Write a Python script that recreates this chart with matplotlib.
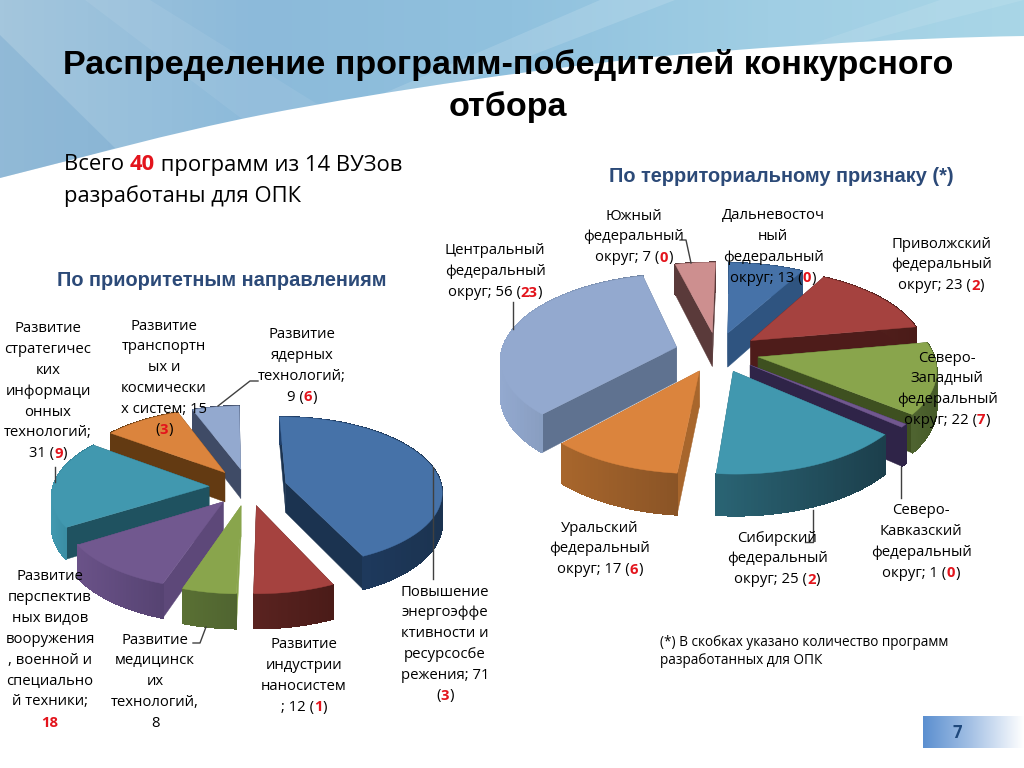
import numpy as np
import matplotlib
matplotlib.use('Agg')
import matplotlib.pyplot as plt
from matplotlib.colors import to_rgb, LinearSegmentedColormap
from matplotlib.patches import Polygon, PathPatch
from matplotlib.path import Path

# priority directions pie, clockwise from the top
left_values = [71, 12, 8, 18, 31, 15, 9]
left_labels = [
    'Повышение\nэнергоэффе\nктивности и\nресурсосбе\nрежения; 71\n(*3*)',
    'Развитие\nиндустрии\nнаносистем\n; 12 (*1*)',
    'Развитие\nмедицинск\nих\nтехнологий,\n8',
    'Развитие\nперспектив\nных видов\nвооружения\n, военной и\nспециально\nй техники;\n*18*',
    'Развитие\nстратегичес\nких\nинформаци\nонных\nтехнологий;\n31 (*9*)',
    'Развитие\nтранспортн\nых и\nкосмически\nх систем; 15\n(*3*)',
    'Развитие\nядерных\nтехнологий;\n9 (*6*)',
]
# territorial pie, clockwise from the top
right_values = [13, 23, 22, 1, 25, 17, 56, 7]
right_labels = [
    'Дальневосточ\nный\nфедеральный\nокруг; 13 (*0*)',
    'Приволжский\nфедеральный\nокруг; 23 (*2*)',
    'Северо-\nЗападный\nфедеральный\nокруг; 22 (*7*)',
    'Северо-\nКавказский\nфедеральный\nокруг; 1 (*0*)',
    'Сибирский\nфедеральный\nокруг; 25 (*2*)',
    'Уральский\nфедеральный\nокруг; 17 (*6*)',
    'Центральный\nфедеральный\nокруг; 56 (*23*)',
    'Южный\nфедеральный\nокруг; 7 (*0*)',
]

# colours: top face, cut wall, outer wall left, outer wall right
left_colors = [
    ('#4672A8', '#1B3350', '#21406A', '#1B3350'),
    ('#A5423F', '#4E1C1A', '#5A2320', '#4A1B18'),
    ('#89A54C', '#89A54C', '#5A7034', '#4F6430'),
    ('#71588F', '#5D4879', '#6A5288', '#564372'),
    ('#4198AF', '#1F5260', '#4198AF', '#2F7A8E'),
    ('#DB843D', '#633A12', '#633A12', '#633A12'),
    ('#93A9CF', '#3F4B66', '#3F4B66', '#3F4B66'),
]
right_colors = [
    ('#4672A8', '#2F5480', '#2F5480', '#2F5480'),
    ('#A5423F', '#4E1C1A', '#5A2320', '#4A1B18'),
    ('#89A54C', '#3E5020', '#4F6430', '#455A28'),
    ('#71588F', '#2F2448', '#2F2448', '#2F2448'),
    ('#4198AF', '#2A6474', '#2A6474', '#1C3F4C'),
    ('#DB843D', '#A8662C', '#A8662C', '#8A5426'),
    ('#93A9CF', '#5F7290', '#93A9CF', '#6F829F'),
    ('#CD8F8F', '#5A3A3A', '#5A3A3A', '#5A3A3A'),
]

# label centres: x, y of first line
left_label_pos = [(445, 592), (304, 645), (155, 640), (50, 577), (48, 329), (164, 326), (302, 335)]
right_label_pos = [(773, 216), (941, 244), (947, 358), (921, 511), (777, 538), (600, 528), (495, 251), (634, 216)]

left_leaders = [
    [(218, 406), (250, 381), (258, 381)],
    [(55, 467), (55, 482)],
    [(433, 467), (433, 579)],
    [(206, 627), (200, 643), (193, 643)],
]
right_leaders = [
    [(680, 240), (686, 240), (691, 263)],
    [(513, 302), (513, 329)],
    [(901, 467), (901, 498)],
    [(813, 510), (813, 542), (805, 542)],
]

label_font = ['Open Sans', 'DejaVu Sans']
head_font = ['Liberation Sans', 'DejaVu Sans']

fig = plt.figure(figsize=(10.24, 7.68), dpi=100)
ax = fig.add_axes([0, 0, 1, 1])
ax.set_xlim(0, 1024)
ax.set_ylim(768, 0)
ax.axis('off')


def draw_background():
    cmap = LinearSegmentedColormap.from_list('bg', ['#A4C6DD', '#8CBADA', '#90C1DE', '#A0CEE4', '#A9D6E7'])
    grad = np.linspace(0, 1, 256).reshape(1, -1)
    im = ax.imshow(grad, extent=[0, 1024, 190, 0], cmap=cmap, aspect='auto', zorder=0)
    band = PathPatch(Path(
        [(0, 0), (1024, 0), (1024, 36), (900, 38), (760, 47), (653, 57), (550, 68), (400, 88), (261, 115),
         (170, 133), (80, 158), (0, 178), (0, 0)],
        [Path.MOVETO, Path.LINETO, Path.LINETO, Path.CURVE4, Path.CURVE4, Path.CURVE4, Path.CURVE4, Path.CURVE4,
         Path.CURVE4, Path.CURVE4, Path.CURVE4, Path.CURVE4, Path.CLOSEPOLY]),
        transform=ax.transData, facecolor='none', edgecolor='none')
    ax.add_patch(band)
    im.set_clip_path(band)
    ax.set_xlim(0, 1024)
    ax.set_ylim(768, 0)
    # lighter and darker streaks in the header
    streaks = [
        ([(85, 0), (150, 0), (330, 112), (250, 125)], '#FFFFFF', 0.07),
        ([(675, 0), (600, 0), (380, 95), (455, 85)], '#FFFFFF', 0.14),
        ([(1024, 0), (940, 0), (800, 48), (860, 42)], '#FFFFFF', 0.1),
        ([(0, 35), (0, 182), (115, 148)], '#6FA3CC', 0.35),
    ]
    for pts, col, alpha in streaks:
        p = Polygon(pts, closed=True, facecolor=col, edgecolor='none', alpha=alpha, zorder=0.5)
        ax.add_patch(p)
        p.set_clip_path(band)


def project(pie, X, Y, Z=0.0):
    p = 1.0 / (1.0 - pie['k'] * Y)
    return pie['cx'] + pie['rx'] * X * p, pie['cy'] + pie['ry'] * Y * p + pie['d'] * Z * p


def draw_pie(values, colors, pie):
    values = np.array(values, dtype=float)
    edges = np.cumsum(np.r_[0, values]) / values.sum() * 2 * np.pi + np.radians(pie['start'])
    order = np.argsort(-np.cos((edges[:-1] + edges[1:]) / 2))
    for i in order:
        a0, a1 = edges[i], edges[i + 1]
        mid = (a0 + a1) / 2
        ox, oy = pie['e'] * np.sin(mid), -pie['e'] * np.cos(mid)
        t = np.linspace(a0, a1, 60)
        X = ox + np.sin(t)
        Y = oy - np.cos(t)
        top_col, cut_col, wall_l, wall_r = colors[i]
        zo = 2 + list(order).index(i) * 0.1
        ax_x, ax_y = project(pie, X, Y)
        bx, by = project(pie, X, Y, 1.0)
        a_top = project(pie, ox, oy)
        a_bot = project(pie, ox, oy, 1.0)
        # cut walls
        for j in (0, -1):
            ax.add_patch(Polygon([a_top, (ax_x[j], ax_y[j]), (bx[j], by[j]), a_bot], closed=True,
                                 facecolor=cut_col, edgecolor=cut_col, lw=0.3, zorder=zo))
        # outer wall as thin quads so it can carry a shade
        c0, c1 = np.array(to_rgb(wall_l)), np.array(to_rgb(wall_r))
        span = max(ax_x.max() - ax_x.min(), 1)
        for j in range(len(t) - 1):
            f = (ax_x[j] - ax_x.min()) / span
            col = c0 + (c1 - c0) * f
            ax.add_patch(Polygon([(ax_x[j], ax_y[j]), (ax_x[j + 1], ax_y[j + 1]), (bx[j + 1], by[j + 1]), (bx[j], by[j])],
                                 closed=True, facecolor=col, edgecolor=col, lw=0.6, antialiased=False, zorder=zo))
        ax.add_patch(Polygon(np.r_[[a_top], np.c_[ax_x, ax_y]], closed=True, facecolor=top_col,
                             edgecolor=top_col, lw=0.3, zorder=zo + 0.01))


def rich_line(x, y, line, fontsize, family, ha='center', color='black', zorder=6):
    # pieces between * are the red bold numbers
    parts = line.split('*')
    rend = fig.canvas.get_renderer()
    items = []
    for n, part in enumerate(parts):
        if part == '':
            continue
        red = n % 2 == 1
        txt = ax.text(0, y, part, fontsize=fontsize, family=family, color='#E3141C' if red else color,
                      fontweight='bold' if red else 'normal', va='center', ha='left', zorder=zorder)
        items.append(txt)
    # advance widths, keep trailing spaces by measuring with a stop character
    widths = []
    for txt in items:
        s = txt.get_text()
        txt.set_text(s + '|')
        w1 = txt.get_window_extent(rend).width
        txt.set_text('|')
        w2 = txt.get_window_extent(rend).width
        txt.set_text(s)
        widths.append(w1 - w2)
    pos = x - sum(widths) / 2 if ha == 'center' else x
    for txt, w in zip(items, widths):
        txt.set_x(pos)
        pos += w


def draw_labels(labels, positions, leaders):
    for pts in leaders:
        ax.plot([p[0] for p in pts], [p[1] for p in pts], color='#404040', lw=1, zorder=5)
    for label, (x, y) in zip(labels, positions):
        for n, line in enumerate(label.split('\n')):
            rich_line(x, y + n * 20.8, line, 10.7, label_font)


draw_background()

left_pie = dict(cx=248, cy=487, rx=156, ry=74, d=30, k=0.11, e=0.25, start=-1)
right_pie = dict(cx=717, cy=352, rx=175, ry=84, d=35, k=0.13, e=0.24, start=1)
draw_pie(left_values, left_colors, left_pie)
draw_pie(right_values, right_colors, right_pie)
draw_labels(left_labels, left_label_pos, left_leaders)
draw_labels(right_labels, right_label_pos, right_leaders)

# headings
ax.text(508, 65, 'Распределение программ-победителей конкурсного', fontsize=24.6, family=head_font,
        fontweight='bold', ha='center', va='center', color='black', zorder=6)
ax.text(508, 107, 'отбора', fontsize=24.6, family=head_font, fontweight='bold', ha='center', va='center',
        color='black', zorder=6)
rich_line(64, 165, 'Всего *40* программ из 14 ВУЗов', 15.8, label_font, ha='left')
rich_line(64, 196, 'разработаны для ОПК', 15.8, label_font, ha='left')
ax.text(57, 280, 'По приоритетным направлениям', fontsize=14.4, family=head_font, fontweight='bold',
        color='#2C4A78', va='center', ha='left', zorder=6)
ax.text(609, 177, 'По территориальному признаку (*)', fontsize=14.4, family=head_font, fontweight='bold',
        color='#2C4A78', va='center', ha='left', zorder=6)
ax.text(660, 642, '(*) В скобках указано количество программ', fontsize=9.8, family=label_font, va='center', zorder=6)
ax.text(660, 661, 'разработанных для ОПК', fontsize=9.8, family=label_font, va='center', zorder=6)

# page number box
box_cmap = LinearSegmentedColormap.from_list('box', ['#5B8FD0', '#A9C4E6', '#FFFFFF'])
ax.imshow(np.linspace(0, 1, 128).reshape(1, -1), extent=[923, 1024, 748, 716], cmap=box_cmap, aspect='auto', zorder=1)
ax.set_xlim(0, 1024)
ax.set_ylim(768, 0)
ax.text(957, 733, '7', fontsize=12, family=label_font, fontweight='bold', color='#1F497D', ha='center', va='center', zorder=6)

fig.savefig('out.png', dpi=100)
